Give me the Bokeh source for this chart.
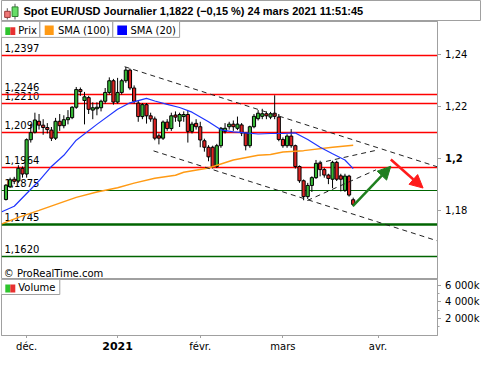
from bokeh.plotting import figure
from bokeh.layouts import column, row
from bokeh.models import (Range1d, FixedTicker, Label, LabelSet, ColumnDataSource,
                          BoxAnnotation, Arrow, NormalHead)
from bokeh.core.properties import value
from bokeh.embed import file_html
from bokeh.resources import INLINE

FONT = "DejaVu Sans"
TITLE_FONT = "Liberation Sans"

# ---------------- data ----------------
TITLE = "Spot EUR/USD Journalier 1,1822 (\u22120,15 %) 24 mars 2021 11:51:45"

day_index = list(range(-5, 80))
opens = [1.1841, 1.1890, 1.1919, 1.1912, 1.1961, 1.1939, 1.2071, 1.2100, 1.2142, 1.2127,
         1.2118, 1.2108, 1.2077, 1.2142, 1.2125, 1.2148, 1.2156, 1.2196, 1.2264, 1.2222,
         1.2233, 1.2185, 1.2190, 1.2194, 1.2219, 1.2253, 1.2298, 1.2216, 1.2253, 1.2298,
         1.2339, 1.2270, 1.2212, 1.2160, 1.2206, 1.2163, 1.2151, 1.2086, 1.2077, 1.2139,
         1.2114, 1.2166, 1.2143, 1.2160, 1.2168, 1.2103, 1.2134, 1.2121, 1.2067, 1.2042,
         1.2042, 1.1968, 1.2048, 1.2103, 1.2121, 1.2131, 1.2115, 1.2128, 1.2097, 1.2048,
         1.2121, 1.2152, 1.2161, 1.2171, 1.2158, 1.2173, 1.2158, 1.2072, 1.2048, 1.2085,
         1.2048, 1.1968, 1.1913, 1.1852, 1.1895, 1.1925, 1.1980, 1.1956, 1.1935, 1.1919,
         1.1984, 1.1932, 1.1876, 1.1931, 1.1840]
highs = [1.1900, 1.1925, 1.1928, 1.1973, 1.1968, 1.2076, 1.2132, 1.2175, 1.2170, 1.2150,
         1.2135, 1.2120, 1.2155, 1.2170, 1.2165, 1.2185, 1.2200, 1.2274, 1.2272, 1.2255,
         1.2240, 1.2215, 1.2215, 1.2225, 1.2270, 1.2311, 1.2305, 1.2309, 1.2305, 1.2351,
         1.2345, 1.2280, 1.2220, 1.2212, 1.2212, 1.2175, 1.2160, 1.2095, 1.2145, 1.2150,
         1.2175, 1.2180, 1.2175, 1.2180, 1.2183, 1.2140, 1.2150, 1.2140, 1.2075, 1.2050,
         1.2048, 1.2055, 1.2120, 1.2135, 1.2140, 1.2145, 1.2160, 1.2135, 1.2100, 1.2125,
         1.2170, 1.2185, 1.2190, 1.2180, 1.2178, 1.2242, 1.2170, 1.2080, 1.2092, 1.2112,
         1.2052, 1.1972, 1.1918, 1.1905, 1.1930, 1.1993, 1.1990, 1.1962, 1.1940, 1.1990,
         1.1990, 1.1940, 1.1940, 1.1936, 1.1848]
lows = [1.1837, 1.1885, 1.1900, 1.1905, 1.1925, 1.1925, 1.2060, 1.2095, 1.2110, 1.2090,
        1.2095, 1.2066, 1.2070, 1.2105, 1.2115, 1.2130, 1.2150, 1.2190, 1.2240, 1.2130,
        1.2170, 1.2150, 1.2165, 1.2180, 1.2210, 1.2245, 1.2206, 1.2210, 1.2245, 1.2290,
        1.2262, 1.2210, 1.2140, 1.2150, 1.2133, 1.2140, 1.2069, 1.2053, 1.2070, 1.2105,
        1.2105, 1.2140, 1.2120, 1.2140, 1.2060, 1.2095, 1.2110, 1.2042, 1.2025, 1.1988,
        1.1960, 1.1962, 1.2040, 1.2095, 1.2110, 1.2105, 1.2108, 1.2085, 1.2030, 1.2040,
        1.2115, 1.2145, 1.2150, 1.2150, 1.2150, 1.2150, 1.2065, 1.2040, 1.2040, 1.2040,
        1.1960, 1.1905, 1.1838, 1.1843, 1.1870, 1.1920, 1.1930, 1.1925, 1.1900, 1.1885,
        1.1912, 1.1872, 1.1870, 1.1852, 1.1815]
closes = [1.1896, 1.1917, 1.1911, 1.1961, 1.1939, 1.2071, 1.2098, 1.2147, 1.2127, 1.2118,
          1.2110, 1.2077, 1.2142, 1.2125, 1.2148, 1.2156, 1.2196, 1.2264, 1.2256, 1.2236,
          1.2188, 1.2194, 1.2196, 1.2219, 1.2253, 1.2298, 1.2216, 1.2253, 1.2298, 1.2339,
          1.2270, 1.2219, 1.2160, 1.2206, 1.2163, 1.2151, 1.2077, 1.2077, 1.2139, 1.2114,
          1.2163, 1.2158, 1.2168, 1.2168, 1.2103, 1.2131, 1.2121, 1.2070, 1.2042, 1.2005,
          1.1968, 1.2048, 1.2115, 1.2115, 1.2131, 1.2121, 1.2131, 1.2097, 1.2048, 1.2121,
          1.2161, 1.2173, 1.2171, 1.2163, 1.2171, 1.2161, 1.2072, 1.2048, 1.2085, 1.2048,
          1.1968, 1.1913, 1.1852, 1.1895, 1.1925, 1.1980, 1.1956, 1.1935, 1.1922, 1.1984,
          1.1919, 1.1919, 1.1931, 1.1858, 1.1822]

sma20_idx = [-6, -3, 0, 3, 6, 9, 12, 17, 22, 25, 29, 31, 34, 37, 40, 44, 47, 50, 53, 56,
             59, 62, 65, 68, 71, 74, 77, 79]
sma20_val = [1.1794, 1.1815, 1.1864, 1.1913, 1.1968, 1.2011, 1.2069, 1.2130, 1.2188, 1.2213,
             1.2230, 1.2220, 1.2207, 1.2195, 1.2177, 1.2140, 1.2109, 1.2101, 1.2097, 1.2093,
             1.2095, 1.2095, 1.2097, 1.2072, 1.2042, 1.2017, 1.1993, 1.1960]

sma100_idx = [-6, -2, 3, 8, 12, 17, 22, 26, 31, 36, 38, 44, 50, 56, 59, 62, 67, 74, 79]
sma100_val = [1.1747, 1.1772, 1.1799, 1.1827, 1.1849, 1.1870, 1.1886, 1.1904, 1.1923, 1.1934,
              1.1946, 1.1962, 1.1993, 1.2011, 1.2014, 1.2024, 1.2029, 1.2042, 1.2050]

level_values = [1.2397, 1.2246, 1.2210, 1.2097, 1.1964, 1.1875, 1.1745, 1.1620]

trend_x0 = [23.7, 30.7, 70.3, 67.9]
trend_y0 = [1.2352, 1.2028, 1.1980, 1.1837]
trend_x1 = [99.3, 99.5, 84.5, 84.5]
trend_y1 = [1.1967, 1.1681, 1.2030, 1.1955]

arrow_x0 = [78.9, 88.1]
arrow_y0 = [1.1815, 1.1995]
arrow_x1 = [88.1, 95.9]
arrow_y1 = [1.1969, 1.1885]

month_ticks = [0, 22, 42, 62, 85]
month_labels = ["d\u00e9c.", "2021", "f\u00e9vr.", "mars", "avr."]
price_ticks = [1.18, 1.20, 1.22, 1.24]
price_tick_labels = ["1,18", "1,2", "1,22", "1,24"]
volume_ticks = [2000000, 4000000, 6000000]
volume_minor = [1000000, 3000000, 5000000]
volume_tick_labels = ["2 000k", "4 000k", "6 000k"]

# ---------------- styles ----------------
W = 484
AXW = 43          # width of the tick-label column on the right
GREY = "#a0a0a0"
UP = "#36b836"
DOWN = "#e02424"
level_colors = ["#ff0000"] * 5 + ["#006400"] * 3
level_widths = [1.4, 1.4, 1.4, 1.4, 1.4, 1.0, 2.6, 1.5]
arrow_colors = ["#1f7f1f", "#ff1a1a"]
price_label_styles = ["normal", "bold", "normal", "normal"]
month_label_styles = ["normal", "bold", "normal", "normal", "normal"]
month_label_sizes = ["10px", "11px", "10px", "10px", "10px"]


def sbox(fig, l, r, b, t, fill, line=None, lw=1):
    fig.add_layout(BoxAnnotation(left=l, right=r, bottom=b, top=t,
                                 left_units="screen", right_units="screen",
                                 bottom_units="screen", top_units="screen",
                                 fill_color=fill, fill_alpha=1.0,
                                 line_color=line if line else fill,
                                 line_alpha=1.0 if line else 0.0, line_width=lw,
                                 level="overlay"))


def slabel(fig, x, y, text, size="10px", font=FONT, style="normal", align="left",
           baseline="middle"):
    fig.add_layout(Label(x=x, y=y, x_units="screen", y_units="screen", text=text,
                         text_font=font, text_font_size=size, text_font_style=style,
                         text_align=align, text_baseline=baseline, text_color="black",
                         level="overlay"))


def ticks_only_axis(a, tick_out):
    # the axis gives the line and the tick marks; its labels are written beside it
    a.axis_line_color = GREY
    a.major_tick_line_color = GREY
    a.minor_tick_line_color = GREY
    a.major_tick_out = tick_out
    a.major_tick_in = 0
    a.minor_tick_out = 2
    a.minor_tick_in = 0
    a.major_label_standoff = 0
    a.major_label_text_font_size = "0px"
    a.major_label_text_color = None
    a.major_label_text_alpha = 0


def bare(fig):
    fig.grid.visible = False
    fig.outline_line_color = None


# ---------------- title bar ----------------
t = figure(width=W, height=21, x_range=Range1d(0, 1), y_range=Range1d(0, 1),
           x_axis_location=None, y_axis_location=None, toolbar_location=None,
           output_backend="svg", min_border=0)
t.grid.visible = False
t.outline_line_color = GREY
sbox(t, 5.3, 6.3, 1.9, 13.3, "#555555")
sbox(t, 3.2, 8.7, 4.1, 10.2, "#f07878", "#9a3a3a")
sbox(t, 13.0, 14.0, 1.9, 17.8, "#555555")
sbox(t, 10.6, 16.5, 5.0, 14.6, "#66dd66", "#2f7f2f")
slabel(t, 22, 10.5, TITLE, size="11px", font=TITLE_FONT, style="bold")

# ---------------- price panel ----------------
x_rng = Range1d(-6.08, 99.39)
y_rng = Range1d(1.1533, 1.2526)
FH = 258
p = figure(width=W - AXW, height=FH, x_range=x_rng, y_range=y_rng,
           x_axis_location=None, y_axis_location="right", toolbar_location=None,
           output_backend="svg", min_border_left=1, min_border_right=4,
           min_border_top=0, min_border_bottom=0)
p.grid.visible = False
p.outline_line_color = GREY
ax = p.yaxis[0]
ax.ticker = FixedTicker(ticks=price_ticks, minor_ticks=[])
ticks_only_axis(ax, 4)
ax.minor_tick_out = 0

# horizontal levels
lvl_src = ColumnDataSource(dict(
    y=level_values,
    text=[f"{v:.4f}".replace(".", ",") for v in level_values],
    color=level_colors, width=level_widths))
p.add_layout(LabelSet(x=2.9, x_units="screen", y="y", text="text", source=lvl_src,
                      y_offset=3.5, text_font=value(FONT), text_font_size=value("10px"),
                      text_baseline=value("alphabetic"), text_color=value("black"),
                      level="underlay"))
p.hspan(y="y", source=lvl_src, line_color="color", line_width="width")

# candles
top = [max(o, c) for o, c in zip(opens, closes)]
bot = [min(o, c) for o, c in zip(opens, closes)]
col = [UP if c >= o else DOWN for o, c in zip(opens, closes)]
csrc = ColumnDataSource(dict(x=day_index, h=highs, l=lows, top=top, bot=bot, color=col))
p.segment(x0="x", y0="l", x1="x", y1="h", source=csrc, line_color="black", line_width=1)
p.vbar(x="x", width=0.76, top="top", bottom="bot", source=csrc, fill_color="color",
       line_color="black", line_width=1)

# moving averages
p.line(sma100_idx, sma100_val, line_color="#ff9a14", line_width=1.5)
p.line(sma20_idx, sma20_val, line_color="#1f35ff", line_width=1.2)

# trend lines
p.segment(x0=trend_x0, y0=trend_y0, x1=trend_x1, y1=trend_y1, line_color="#222222",
          line_width=1, line_dash="5 4")

# arrows
for i in range(len(arrow_x0)):
    c = arrow_colors[i]
    p.add_layout(Arrow(x_start=arrow_x0[i], y_start=arrow_y0[i], x_end=arrow_x1[i],
                       y_end=arrow_y1[i], line_color=c, line_width=2.5,
                       end=NormalHead(size=13, fill_color=c, line_color=c)))

# legend boxes
sbox(p, -1, 38.4, FH - 15.9, FH, "white", GREY)
sbox(p, 38.4, 111.3, FH - 15.9, FH, "white", GREY)
sbox(p, 111.3, 178.1, FH - 15.9, FH, "white", GREY)
sbox(p, 3.8, 8.8, FH - 13.4, FH - 5.7, "#2ec42e")
sbox(p, 8.8, 13.8, FH - 13.4, FH - 5.7, "#e83030")
sbox(p, 43.2, 52.2, FH - 13.4, FH - 4.1, "#ff9a14")
sbox(p, 115.8, 125.5, FH - 13.4, FH - 4.1, "#0000ff")
slabel(p, 16.7, FH - 8.6, "Prix")
slabel(p, 56.4, FH - 8.6, "SMA (100)")
slabel(p, 129.0, FH - 8.6, "SMA (20)")
slabel(p, 2.2, 6.3, "\u00a9 ProRealTime.com")

# price tick labels column
pl = figure(width=AXW, height=FH, x_range=Range1d(0, AXW), y_range=y_rng,
            x_axis_location=None, y_axis_location=None, toolbar_location=None,
            output_backend="svg", min_border=0)
bare(pl)
pl.text(x=3.6, y=price_ticks, text=price_tick_labels, text_font=value(FONT),
        text_font_size="10px", text_font_style=price_label_styles,
        text_baseline="middle", text_align="left", text_color="black")

# ---------------- volume panel ----------------
VH = 56
v_rng = Range1d(-118000, 6765000)
v = figure(width=W - AXW, height=VH + 3, x_range=x_rng, y_range=v_rng,
           x_axis_location="below", y_axis_location="right", toolbar_location=None,
           output_backend="svg", min_border_left=1, min_border_right=4,
           min_border_top=0, min_border_bottom=3)
v.grid.visible = False
v.outline_line_color = GREY
vy = v.yaxis[0]
vy.ticker = FixedTicker(ticks=volume_ticks, minor_ticks=volume_minor)
ticks_only_axis(vy, 4)
vx = v.xaxis[0]
vx.ticker = FixedTicker(ticks=month_ticks, minor_ticks=[])
ticks_only_axis(vx, 3)

sbox(v, -1, 58.3, VH - 15, VH, "white", GREY)
sbox(v, 3.8, 8.8, VH - 12.9, VH - 5, "#2ec42e")
sbox(v, 8.8, 13.8, VH - 12.9, VH - 5, "#e83030")
slabel(v, 16.7, VH - 8.1, "Volume")

vl = figure(width=AXW, height=VH + 3, x_range=Range1d(0, AXW), y_range=v_rng,
            x_axis_location=None, y_axis_location=None, toolbar_location=None,
            output_backend="svg", min_border_left=0, min_border_right=0,
            min_border_top=0, min_border_bottom=3)
bare(vl)
vl.text(x=3.6, y=volume_ticks, text=volume_tick_labels, text_font=value(FONT),
        text_font_size="10px", text_baseline="middle", text_align="left",
        text_color="black")

# month labels strip
XH = 354 - 21 - FH - (VH + 3)
xl = figure(width=W - AXW, height=XH, x_range=x_rng, y_range=Range1d(0, XH),
            x_axis_location=None, y_axis_location=None, toolbar_location=None,
            output_backend="svg", min_border_left=1, min_border_right=4,
            min_border_top=0, min_border_bottom=0)
bare(xl)
xl.text(x=month_ticks, y=XH - 7.5, text=month_labels, text_font=value(FONT),
        text_font_size=month_label_sizes, text_font_style=month_label_styles,
        text_baseline="middle", text_align="center", text_color="black")

layout = column(t, row(p, pl, spacing=0), row(v, vl, spacing=0), xl, spacing=0)
open("out.html", "w").write(file_html(layout, INLINE))
